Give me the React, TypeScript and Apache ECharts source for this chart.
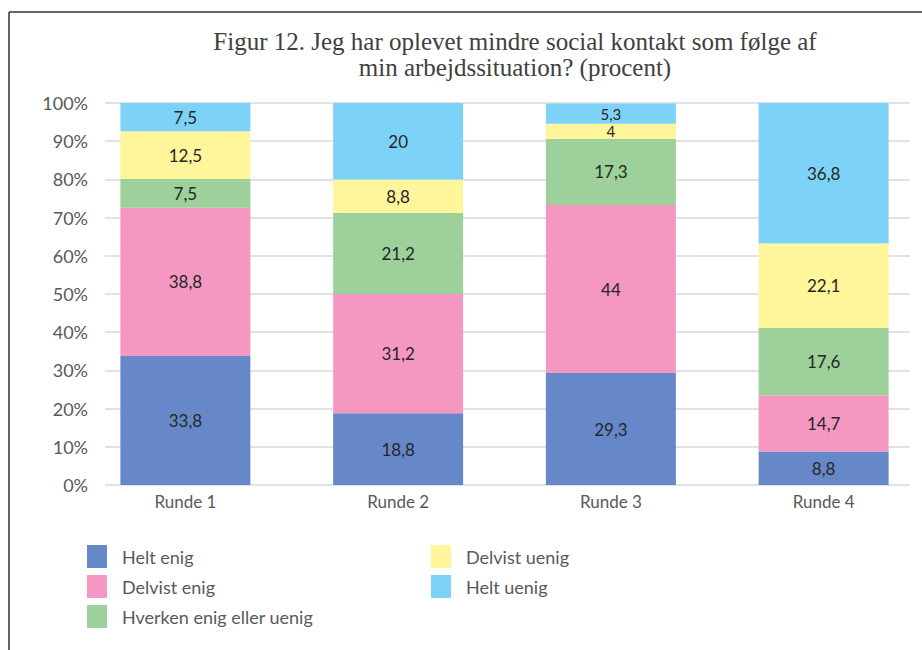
import React, { useEffect, useRef } from "react";
import * as echarts from "echarts";

const categories = ["Runde 1", "Runde 2", "Runde 3", "Runde 4"];
const seriesNames = ["Helt enig", "Delvist enig", "Hverken enig eller uenig", "Delvist uenig", "Helt uenig"];
const heltEnig = [33.8, 18.8, 29.3, 8.8];
const delvistEnig = [38.8, 31.2, 44, 14.7];
const hverken = [7.5, 21.2, 17.3, 17.6];
const delvistUenig = [12.5, 8.8, 4, 22.1];
const heltUenig = [7.5, 20, 5.3, 36.8];
const colors = ["#6688C8", "#F498C2", "#9DD09A", "#FFF59A", "#7DD3F7"];
const titleLines = ["Figur 12. Jeg har oplevet mindre social kontakt som følge af", "min arbejdssituation? (procent)"];

const W = 940;

export default function App() {
  const ref = useRef<HTMLDivElement>(null);
  useEffect(() => {
    if (!ref.current) return;
    const chart = echarts.init(ref.current, null, { renderer: "svg" });
    const values = [heltEnig, delvistEnig, hverken, delvistUenig, heltUenig];
    const font = "Lato, 'Open Sans', sans-serif";
    const legendBase = {
      orient: "vertical",
      top: 540,
      itemWidth: 20,
      itemHeight: 23,
      itemGap: 7,
      icon: "rect",
      textStyle: { color: "#595959", fontSize: 18, fontFamily: font, padding: [0, 0, 0, 10] },
    };
    chart.setOption({
      animation: false,
      backgroundColor: "#ffffff",
      title: {
        text: titleLines.join("\n"),
        left: 510,
        top: 23,
        textAlign: "center",
        textStyle: {
          fontFamily: "'Liberation Serif', serif",
          fontSize: 25,
          fontWeight: "normal",
          color: "#404040",
          lineHeight: 26,
        },
      },
      grid: [
        { left: 105, right: W - 910, top: 103, bottom: 165 },
        { left: 79, right: W - 930, top: 103, bottom: 165 },
      ],
      xAxis: [
        { gridIndex: 0, type: "category", data: categories, show: false },
        {
          gridIndex: 1,
          type: "category",
          data: categories,
          axisLine: { show: false },
          axisTick: { show: false },
          axisLabel: { color: "#595959", fontSize: 17, fontFamily: font, margin: 8 },
        },
      ],
      yAxis: [
        {
          gridIndex: 0,
          type: "value",
          min: 0,
          max: 100,
          interval: 10,
          axisLine: { show: false },
          axisTick: { show: false },
          axisLabel: { formatter: "{value}%", color: "#595959", fontSize: 18, fontFamily: font, margin: 17 },
          splitLine: { lineStyle: { color: "#D9D9D9", width: 1.5 } },
        },
        { gridIndex: 1, type: "value", min: 0, max: 100, show: false },
      ],
      legend: [
        { ...legendBase, data: seriesNames.slice(0, 3), left: 82 },
        { ...legendBase, data: seriesNames.slice(3), left: 426 },
      ],
      graphic: [
        { type: "line", shape: { x1: 9, y1: 12, x2: W, y2: 12 }, style: { stroke: "#333333", lineWidth: 1.5 } },
        { type: "line", shape: { x1: 9, y1: 12, x2: 9, y2: 650 }, style: { stroke: "#333333", lineWidth: 1.5 } },
      ],
      series: [
        { type: "bar", xAxisIndex: 0, yAxisIndex: 0, data: [], silent: true },
        ...seriesNames.map((name, i) => ({
          name,
          type: "bar",
          stack: "total",
          xAxisIndex: 1,
          yAxisIndex: 1,
          barWidth: 130,
          data: values[i].map((v) =>
            v < 6 ? { value: v, label: { fontSize: 15, lineHeight: 14 } } : v
          ),
          itemStyle: { color: colors[i] },
          label: {
            show: true,
            position: "inside",
            color: "#262626",
            fontSize: 17,
            fontFamily: font,
            lineHeight: 15,
            formatter: (p: any) => String(p.value).replace(".", ","),
          },
        })),
      ],
    });
    return () => chart.dispose();
  }, []);
  return (
    <div style={{ position: "absolute", left: 0, top: 0, width: 922, height: 650, overflow: "hidden" }}>
      <div ref={ref} style={{ width: W, height: 650 }} />
    </div>
  );
}
